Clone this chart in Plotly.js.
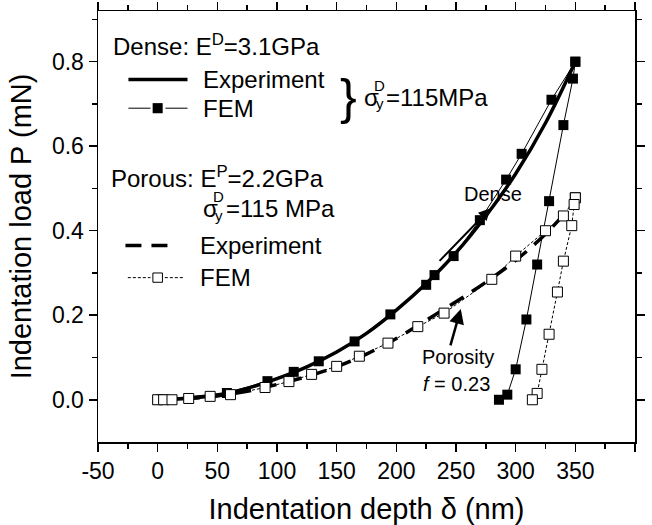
<!DOCTYPE html>
<html>
<head>
<meta charset="utf-8">
<script src="https://cdn.plot.ly/plotly-3.0.1.min.js"></script>
<style>
html,body{margin:0;padding:0;background:#fff;}
#chart{width:652px;height:525px;}
</style>
</head>
<body>
<div id="chart"></div>
<script>
// ---- data (depth in nm, load in mN) ----
var denseExpX = [0, 25, 50, 75, 100, 125, 150, 175, 200, 225, 250, 275, 300, 325, 350];
var denseExpY = [0, 0.003, 0.011, 0.027, 0.050, 0.078, 0.113, 0.157, 0.212, 0.275, 0.348, 0.435, 0.535, 0.655, 0.800];

var denseFemLoadX = [0, 3, 58, 92, 114, 135, 165, 195, 225, 232, 248, 270, 292, 305, 330, 350];
var denseFemLoadY = [0, 0.001, 0.016, 0.044, 0.066, 0.091, 0.138, 0.202, 0.272, 0.295, 0.340, 0.425, 0.521, 0.582, 0.710, 0.800];
var denseFemUnloadX = [350, 348, 340, 328, 318, 309, 300, 293, 286];
var denseFemUnloadY = [0.800, 0.760, 0.650, 0.470, 0.320, 0.190, 0.072, 0.012, 0.000];

var porousExpX = [0, 25, 50, 75, 100, 125, 150, 175, 200, 225, 250, 275, 300, 325, 350];
var porousExpY = [0, 0.003, 0.009, 0.020, 0.036, 0.055, 0.078, 0.108, 0.145, 0.188, 0.232, 0.278, 0.330, 0.392, 0.470];

var porousFemLoadX = [0, 5, 12, 26, 44, 61, 90, 110, 129, 150, 169, 193, 218, 240, 280, 300, 325, 340, 350];
var porousFemLoadY = [0, 0, 0, 0.003, 0.008, 0.012, 0.029, 0.043, 0.060, 0.079, 0.103, 0.134, 0.173, 0.205, 0.285, 0.340, 0.400, 0.435, 0.478];
var porousFemUnloadX = [350, 349, 347, 340, 335, 328, 322, 318, 314];
var porousFemUnloadY = [0.478, 0.462, 0.412, 0.328, 0.255, 0.155, 0.072, 0.015, 0.000];

var xTicks = [-50, 0, 50, 100, 150, 200, 250, 300, 350, 400];
var xMinorTicks = [-25, 25, 75, 125, 175, 225, 275, 325, 375];
var yTicks = [0.0, 0.2, 0.4, 0.6, 0.8];
var yMinorTicks = [0.1, 0.3, 0.5, 0.7, 0.9];
var xRange = [-50, 400];
var yRange = [-0.1, 0.92];

var FONT = "Liberation Sans, Arial, sans-serif";

var traces = [
  {x: denseExpX, y: denseExpY, mode: 'lines', line: {color: '#000', width: 3.5, shape: 'spline'}, hoverinfo: 'skip'},
  {x: porousExpX, y: porousExpY, mode: 'lines', line: {color: '#000', width: 3.5, dash: '16px,10px', shape: 'spline'}, hoverinfo: 'skip'},
  {x: denseFemLoadX, y: denseFemLoadY, mode: 'lines+markers', line: {color: '#000', width: 1},
   marker: {symbol: 'square', size: 10, color: '#000'}},
  {x: denseFemUnloadX, y: denseFemUnloadY, mode: 'lines+markers', line: {color: '#000', width: 1},
   marker: {symbol: 'square', size: 10, color: '#000'}},
  {x: porousFemLoadX, y: porousFemLoadY, mode: 'lines+markers', line: {color: '#000', width: 1, dash: '3px,2px'},
   marker: {symbol: 'square', size: 10, color: '#fff', line: {color: '#000', width: 1}}},
  {x: porousFemUnloadX, y: porousFemUnloadY, mode: 'lines+markers', line: {color: '#000', width: 1, dash: '3px,2px'},
   marker: {symbol: 'square', size: 10, color: '#fff', line: {color: '#000', width: 1}}}
];

function txt(x, y, t, size) {
  return {xref: 'x', yref: 'y', x: x, y: y, text: t, showarrow: false, xanchor: 'left', yanchor: 'middle',
          font: {family: FONT, size: size, color: '#000'}};
}

var annotations = [
  txt(-39.5, 0.839, 'Dense: E<sup>D</sup>=3.1GPa', 24),
  txt(36.5, 0.758, 'Experiment', 24),
  txt(36.5, 0.690, 'FEM', 24),
  txt(151, 0.716, '}', 50),
  txt(171, 0.716, '\u03c3', 24),
  txt(180, 0.744, 'D', 15),
  txt(181, 0.700, 'y', 15),
  txt(190, 0.716, '=115MPa', 24),
  txt(-41, 0.526, 'Porous: E<sup>P</sup>=2.2GPa', 24),
  txt(36, 0.452, '\u03c3', 24),
  txt(45, 0.480, 'D', 15),
  txt(46, 0.437, 'y', 15),
  txt(56, 0.452, '=115 MPa', 24),
  txt(34, 0.365, 'Experiment', 24),
  txt(34, 0.289, 'FEM', 24),
  txt(255, 0.488, 'Dense', 20),
  txt(220, 0.102, 'Porosity', 20),
  txt(221, 0.038, '<i>f</i> = 0.23', 20),
  // arrows
  {xref: 'x', yref: 'y', axref: 'x', ayref: 'y', x: 279, y: 0.453, ax: 235, ay: 0.325, showarrow: true,
   arrowhead: 2, arrowsize: 1.2, arrowwidth: 2, arrowcolor: '#000', text: ''},
  {xref: 'x', yref: 'y', axref: 'x', ayref: 'y', x: 254, y: 0.215, ax: 245, ay: 0.125, showarrow: true,
   arrowhead: 2, arrowsize: 1.2, arrowwidth: 2.5, arrowcolor: '#000', text: ''}
];

var shapes = [
  // dense legend samples
  {type: 'line', xref: 'x', yref: 'y', x0: -24.5, x1: 25, y0: 0.758, y1: 0.758, line: {color: '#000', width: 3.5}},
  {type: 'line', xref: 'x', yref: 'y', x0: -24.5, x1: -6, y0: 0.690, y1: 0.690, line: {color: '#000', width: 1}},
  {type: 'line', xref: 'x', yref: 'y', x0: 6.5, x1: 25, y0: 0.690, y1: 0.690, line: {color: '#000', width: 1}},
  {type: 'rect', xref: 'x', yref: 'y', x0: -4.2, x1: 4.2, y0: 0.678, y1: 0.702, fillcolor: '#000', line: {width: 0}},
  // porous legend samples
  {type: 'line', xref: 'x', yref: 'y', x0: -27, x1: 11, y0: 0.365, y1: 0.365, line: {color: '#000', width: 3.5, dash: '16px,10px'}},
  {type: 'line', xref: 'x', yref: 'y', x0: -25, x1: -6, y0: 0.289, y1: 0.289, line: {color: '#000', width: 1, dash: '3px,2px'}},
  {type: 'line', xref: 'x', yref: 'y', x0: 6, x1: 21.5, y0: 0.289, y1: 0.289, line: {color: '#000', width: 1, dash: '3px,2px'}},
  {type: 'rect', xref: 'x', yref: 'y', x0: -4, x1: 4, y0: 0.278, y1: 0.300, fillcolor: '#fff', line: {color: '#000', width: 1}}
];

var axisBase = {
  showgrid: false, zeroline: false, showline: true, mirror: 'ticks', linecolor: '#000', linewidth: 1.5,
  tickcolor: '#000', tickwidth: 1.5, fixedrange: true
};

var layout = {
  width: 652, height: 525,
  margin: {l: 97.5, r: 17, t: 11, b: 83.3},
  paper_bgcolor: '#fff', plot_bgcolor: '#fff',
  showlegend: false,
  font: {family: FONT, color: '#000'},
  xaxis: Object.assign({}, axisBase, {
    range: xRange, tickvals: xTicks, ticktext: xTicks.map(String), ticks: 'outside', ticklen: 8,
    minor: {tickvals: xMinorTicks, ticks: 'outside', ticklen: 5, tickcolor: '#000', tickwidth: 1.5, showgrid: false},
    tickfont: {family: FONT, size: 23, color: '#000'},
    title: {text: 'Indentation depth \u03b4 (nm)', font: {family: FONT, size: 29, color: '#000'}, standoff: 18}
  }),
  yaxis: Object.assign({}, axisBase, {
    range: yRange, tickvals: yTicks, ticktext: yTicks.map(function(v){return v.toFixed(1);}),
    ticks: 'outside', ticklen: 8,
    minor: {tickvals: yMinorTicks, ticks: 'outside', ticklen: 5, tickcolor: '#000', tickwidth: 1.5, showgrid: false},
    tickfont: {family: FONT, size: 23, color: '#000'},
    title: {text: 'Indentation load P (mN)', font: {family: FONT, size: 29, color: '#000'}, standoff: 12}
  }),
  annotations: annotations,
  shapes: shapes
};

Plotly.newPlot('chart', traces, layout, {staticPlot: true});
</script>
</body>
</html>
